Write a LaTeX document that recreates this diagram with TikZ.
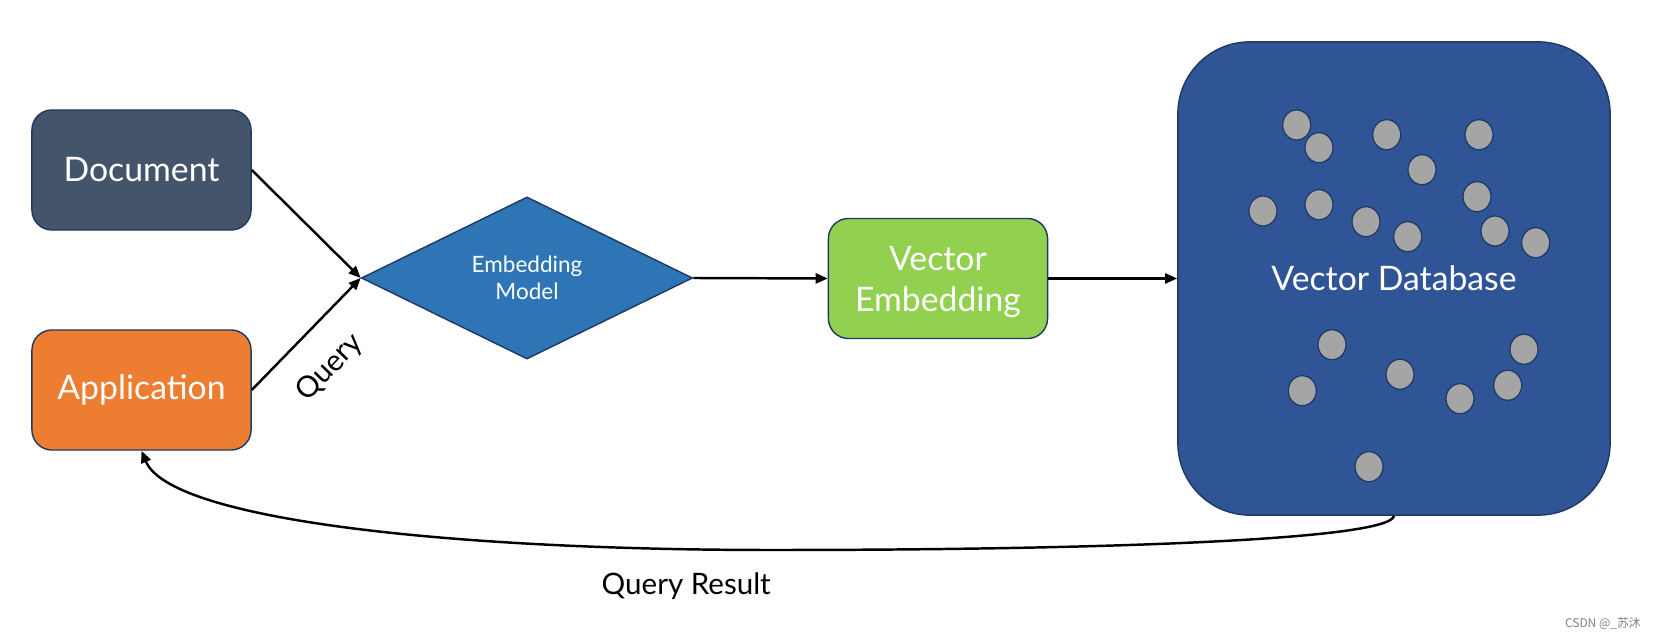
\documentclass[tikz,border=0pt]{standalone}
\usepackage{fontspec}
\setmainfont{Lato}
\newfontfamily\cjkfont{Noto Sans CJK SC}
\usetikzlibrary{shapes.geometric, arrows.meta, positioning}

\definecolor{docgray}{HTML}{44546A}
\definecolor{apporange}{HTML}{ED7D31}
\definecolor{modelblue}{HTML}{2E75B6}
\definecolor{vecgreen}{HTML}{92D050}
\definecolor{dbblue}{HTML}{2F5597}
\definecolor{dotgray}{HTML}{A5A5A5}
\definecolor{edgenavy}{HTML}{1F3864}

\tikzset{
  box/.style={draw=edgenavy, line width=0.4pt, rounded corners=0.2cm, minimum width=2.19cm, minimum height=1.2cm, text=white, font=\fontsize{9.6}{11.7}\selectfont, align=center},
  flow/.style={line width=0.7pt, -{Triangle[length=0.12cm,width=0.1cm]}},
  vecdot/.style={ellipse, draw=edgenavy, fill=dotgray, line width=0.35pt, minimum width=0.28cm, minimum height=0.3cm, inner sep=0pt},
  flowlabel/.style={inner sep=0pt, font=\fontsize{8.4}{10}\selectfont}
}

\begin{document}
\begin{tikzpicture}[x=0.01cm, y=-0.01cm]
  \useasboundingbox (0,0) rectangle (1659,640);

  %Sources
  \node[box, fill=docgray] (doc) at (141.5,170) {Document};
  \node[box, fill=apporange] (app) at (141.5,390) {Application};

  %Model and embedding
  \node[diamond, aspect=2.04, draw=edgenavy, fill=modelblue, minimum width=3.31cm, minimum height=1.62cm, inner sep=0pt, text=white, align=center, font=\fontsize{6.4}{7.8}\selectfont] (model) at (527,278) {Embedding\\Model};
  \node[box, fill=vecgreen, text depth=0pt] (vec) at (938,278.5) {Vector\\Embedding};

  %Database with its vectors
  \node[box, fill=dbblue, rounded corners=0.72cm, minimum width=4.32cm, minimum height=4.73cm] (db) at (1394,278.5) {Vector Database};
  \foreach \x/\y [count=\i] in {1296.7/125, 1319/147.7, 1386.7/134.7, 1479/134.7, 1422/169.7, 1263/211, 1319/204.7, 1366/221.7, 1407.7/236.7, 1477/196.7, 1495/231, 1535.7/242.7, 1332/344.7, 1524/349.3, 1302.3/390.7, 1400/374.3, 1460/398.7, 1507.7/385.3, 1369/466.7}
    \node[vecdot] (dot\i) at (\x,\y) {};

  %Arrows
  \draw[flow] (doc.east) -- (model.west);
  \draw[flow] (app.east) -- (model.west) node[pos=0.45, sloped, below=0.26cm, flowlabel] (qlabel) {Query};
  \draw[flow] (model.east) -- (vec.west);
  \draw[flow] (vec.east) -- (db.west);

  %Result path back to the application
  \draw[flow] (db.south) .. controls (1390,540) and (1100,550) .. (772,550) .. controls (450,550) and (170,520) .. node[pos=0.09, below=0.22cm, flowlabel] (rlabel) {Query Result} (app.south);

  %Watermark
  \node[text=gray, font=\cjkfont\fontsize{3.4}{4}\selectfont] (mark) at (1603,624) {CSDN @\_苏沐};
\end{tikzpicture}
\end{document}
